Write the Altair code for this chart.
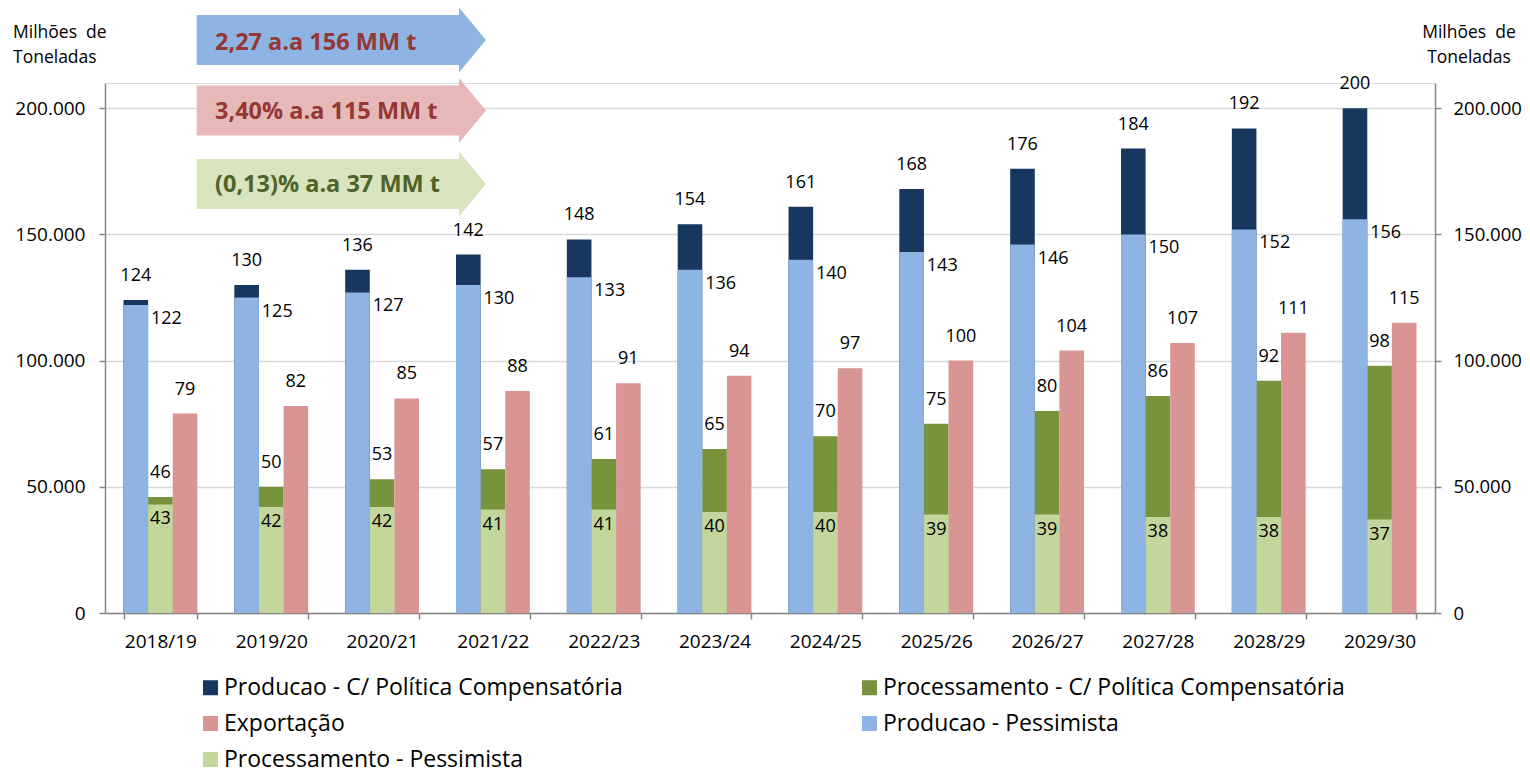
import altair as alt
import pandas as pd

# ---------------- data (milhões de toneladas) ----------------
anos = ["2018/19", "2019/20", "2020/21", "2021/22", "2022/23", "2023/24",
        "2024/25", "2025/26", "2026/27", "2027/28", "2028/29", "2029/30"]
producao_cp = [124, 130, 136, 142, 148, 154, 161, 168, 176, 184, 192, 200]
producao_pess = [122, 125, 127, 130, 133, 136, 140, 143, 146, 150, 152, 156]
processamento_cp = [46, 50, 53, 57, 61, 65, 70, 75, 80, 86, 92, 98]
processamento_pess = [43, 42, 42, 41, 41, 40, 40, 39, 39, 38, 38, 37]
exportacao = [79, 82, 85, 88, 91, 94, 97, 100, 104, 107, 111, 115]

S_PCP = "Producao - C/ Política Compensatória"
S_PRCP = "Processamento - C/ Política Compensatória"
S_EXP = "Exportação"
S_PP = "Producao - Pessimista"
S_PRP = "Processamento - Pessimista"

# legend fills column by column: col 1 = first three, col 2 = last two
legend_order = [S_PCP, S_EXP, S_PRP, S_PRCP, S_PP]
legend_colors = ["#17375E", "#D99594", "#C3D69B", "#77933C", "#8EB4E3"]
grupos = ["Produção", "Processamento", "Exportação"]

arrow_texts = ["2,27 a.a 156 MM t", "3,40% a.a 115 MM t", "(0,13)% a.a 37 MM t"]
unit_text = ["Milhões\u00a0 de", "Toneladas"]

series = [
    (S_PCP, "Produção", producao_cp, 0),
    (S_PP, "Produção", producao_pess, 1),
    (S_PRCP, "Processamento", processamento_cp, 0),
    (S_PRP, "Processamento", processamento_pess, 1),
    (S_EXP, "Exportação", exportacao, 0),
]
rows = []
for nome, grupo, vals, camada in series:
    for a, v in zip(anos, vals):
        rows.append({"ano": a, "serie": nome, "grupo": grupo, "camada": camada,
                     "mi": v, "valor": v * 1000})
df = pd.DataFrame(rows)

FONT = "Open Sans"
W, H = 1330, 530

yscale = alt.Scale(domain=[0, 210000], nice=False, zero=True)
tick_vals = [0, 50000, 100000, 150000, 200000]
lab_expr = "replace(format(datum.value, ','), ',', '.')"

X = alt.X("ano:N", sort=anos, title=None,
          scale=alt.Scale(paddingInner=0.334, paddingOuter=0.167),
          axis=alt.Axis(labelAngle=0, tickBand="extent", labelFontSize=19,
                        labelFont=FONT, labelColor="#000000", tickSize=6,
                        labelPadding=13, domainColor="#868686", tickColor="#868686",
                        domainWidth=1.5, tickWidth=1.5, grid=False))
XO = alt.XOffset("grupo:N", scale=alt.Scale(domain=grupos, paddingInner=0, paddingOuter=0))
XO_proc = alt.XOffset("pos:N", scale=alt.Scale(domain=grupos, paddingInner=0, paddingOuter=0))

left_axis = alt.Axis(values=tick_vals, labelExpr=lab_expr, title=None, orient="left",
                     labelFontSize=19, labelFont=FONT, labelColor="#000000",
                     tickSize=6, labelPadding=14, domainColor="#868686",
                     tickColor="#868686", domainWidth=1.5, tickWidth=1.5,
                     grid=True, gridColor="#D9D9D9", gridWidth=1.5)
right_axis = alt.Axis(values=tick_vals, labelExpr=lab_expr, title=None, orient="right",
                      labelFontSize=18.5, labelFont=FONT, labelColor="#000000",
                      tickSize=6, labelPadding=12, domainColor="#868686",
                      tickColor="#868686", domainWidth=1.5, tickWidth=1.5, grid=False)

Y = alt.Y("valor:Q", stack=None, scale=yscale, axis=left_axis)
Y_plain = alt.Y("valor:Q", stack=None, scale=yscale)

bars = alt.Chart(df).mark_bar().encode(
    x=X, xOffset=XO, y=Y,
    color=alt.Color("serie:N", scale=alt.Scale(domain=legend_order, range=legend_colors),
                    legend=alt.Legend(orient="none", legendX=94, legendY=593, columns=2,
                                      title=None, symbolType="square", symbolSize=225,
                                      labelFontSize=23, labelFont=FONT, labelColor="#000000",
                                      labelLimit=800, columnPadding=235, rowPadding=12,
                                      labelOffset=2, symbolStrokeWidth=0, padding=0)),
    order=alt.Order("camada:Q"),
)

txt = dict(fontSize=18, font=FONT, color="#000000", baseline="middle", align="center")
lbl = alt.Text("mi:Q", format="d")

t_above = alt.Chart(df).transform_filter(
    alt.FieldOneOfPredicate(field="serie", oneOf=[S_PCP, S_PRCP, S_EXP])
).mark_text(dy=-24, **txt).encode(x=X, xOffset=XO, y=Y_plain, text=lbl)

t_prod_pess = alt.Chart(df).transform_filter(
    alt.FieldEqualPredicate(field="serie", equal=S_PP)
).transform_calculate(pos='"Processamento"').mark_text(dy=14, dx=6, **txt).encode(
    x=X, xOffset=XO_proc, y=Y_plain, text=lbl)

t_proc_pess = alt.Chart(df).transform_filter(
    alt.FieldEqualPredicate(field="serie", equal=S_PRP)
).mark_text(dy=15, **txt).encode(x=X, xOffset=XO, y=Y_plain, text=lbl)

# ---------------- arrow annotations ----------------
ARROW = ("M-1,-0.1728 L0.8137,-0.1728 L0.8137,-0.2247 L1,0 L0.8137,0.2247 "
         "L0.8137,0.1728 L-1,0.1728 Z")
arrow_specs = [("#8EB4E3", "#953735", -43, -40),
               ("#E6B9B8", "#953735", 27.5, 29),
               ("#D7E4BD", "#4F6228", 101, 102)]
annot = []
for (fill, tcol, ay, ty), t in zip(arrow_specs, arrow_texts):
    d = pd.DataFrame({"t": [t]})
    annot.append(alt.Chart(d).mark_point(shape=ARROW, size=289.3 ** 2, filled=True,
                                         color=fill, opacity=1, strokeWidth=0).encode(
        x=alt.value(236.3), y=alt.value(ay)))
    annot.append(alt.Chart(d).mark_text(align="left", baseline="middle", fontSize=23.5,
                                        fontWeight="bold", font=FONT, color=tcol).encode(
        x=alt.value(110), y=alt.value(ty), text="t:N"))

ud = pd.DataFrame({"u": [0]})
unit_left = alt.Chart(ud).mark_text(text=unit_text, align="left", baseline="middle",
                                    lineHeight=25, fontSize=17.5, font=FONT,
                                    color="#000000").encode(x=alt.value(-92), y=alt.value(-50))
unit_right = alt.Chart(ud).mark_text(text=unit_text, align="center", baseline="middle",
                                     lineHeight=25, fontSize=17.5, font=FONT,
                                     color="#000000").encode(x=alt.value(1364), y=alt.value(-50))

main = alt.layer(bars, t_above, t_prod_pess, t_proc_pess, *annot, unit_left, unit_right)

right = alt.Chart(df).mark_bar(opacity=0).encode(
    x=X, xOffset=XO, y=alt.Y("valor:Q", stack=None, scale=yscale, axis=right_axis))

chart = alt.layer(main, right).resolve_scale(y="independent").properties(
    width=W, height=H,
    padding={"left": 97, "top": 75, "right": 87, "bottom": 161},
    autosize=alt.AutoSizeParams(type="none"),
).configure_view(stroke=None).configure(font=FONT, background="white")

chart.save("out.html", embed_options={"renderer": "svg", "actions": False})
